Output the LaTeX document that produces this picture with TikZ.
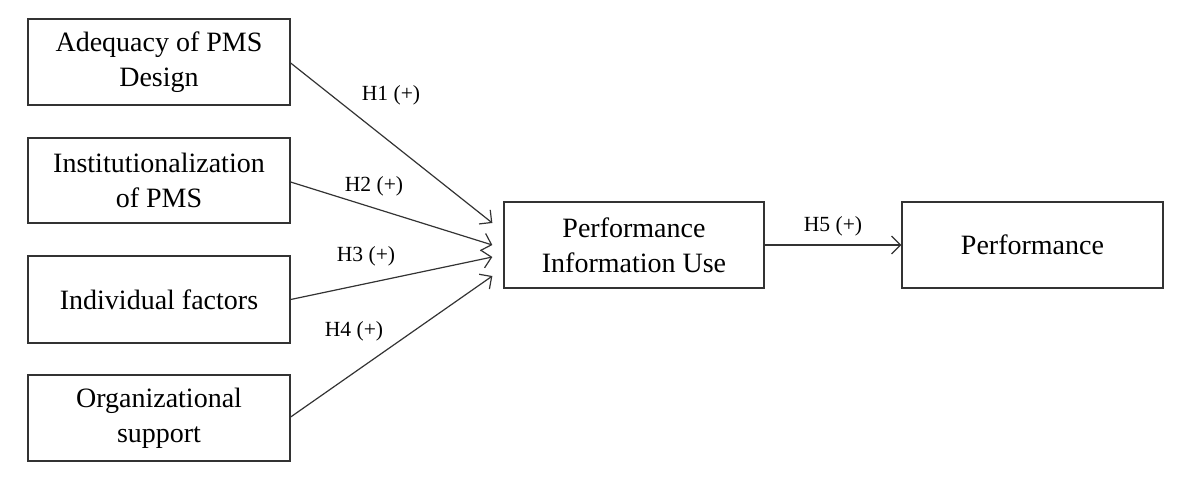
\documentclass[tikz,border=0pt]{standalone}
\usepackage{fontspec}
\setmainfont{Liberation Serif}
\usetikzlibrary{arrows.meta,calc}
\begin{document}
\begin{tikzpicture}[x=0.5pt,y=-0.5pt,
  box/.style={draw=black!80,line width=0.65pt,minimum width=131pt,minimum height=43pt,inner sep=0pt,align=center,font=\fontsize{14}{17.5}\selectfont},
  conn/.style={draw=black!80,line width=0.6pt,-{Straight Barb[length=4.5pt,width=9pt,line width=0.6pt]}},
  lab/.style={font=\fontsize{10.8}{13}\selectfont,inner sep=0pt}]
\useasboundingbox (0,0) rectangle (1200,488);
\node[box,minimum height=43pt] (a) at (159,62) {Adequacy of PMS\\Design};
\node[box,minimum height=42.5pt] (b) at (159,180.5) {Institutionalization\\of PMS};
\node[box,minimum height=43.5pt] (c) at (159,299.5) {Individual factors};
\node[box,minimum height=43pt] (d) at (159,418) {Organizational\\support};
\node[box,minimum width=130pt] (m) at (634,245) {Performance\\Information Use};
\node[box,minimum width=130.5pt] (p) at (1032.5,245) {Performance};
\coordinate (e1) at ($(m.west)+(-11,-22)$);
\coordinate (e2) at ($(m.west)+(-11,0)$);
\coordinate (e3) at ($(m.west)+(-11,12)$);
\coordinate (e4) at ($(m.west)+(-11,31)$);
\draw[conn] ($(a.east)+(0,1)$) -- (e1);
\draw[conn] ($(b.east)+(0,1.5)$) -- (e2);
\draw[conn] (c.east) -- (e3);
\draw[conn] ($(d.east)+(0,-1)$) -- (e4);
\draw[conn] (m.east) -- (p.west);
\node[lab] (l1) at (391,95) {H1 (+)};
\node[lab] (l2) at (374,186) {H2 (+)};
\node[lab] (l3) at (366,256) {H3 (+)};
\node[lab] (l4) at (354,331) {H4 (+)};
\node[lab] (l5) at (833,226) {H5 (+)};
\end{tikzpicture}
\end{document}
